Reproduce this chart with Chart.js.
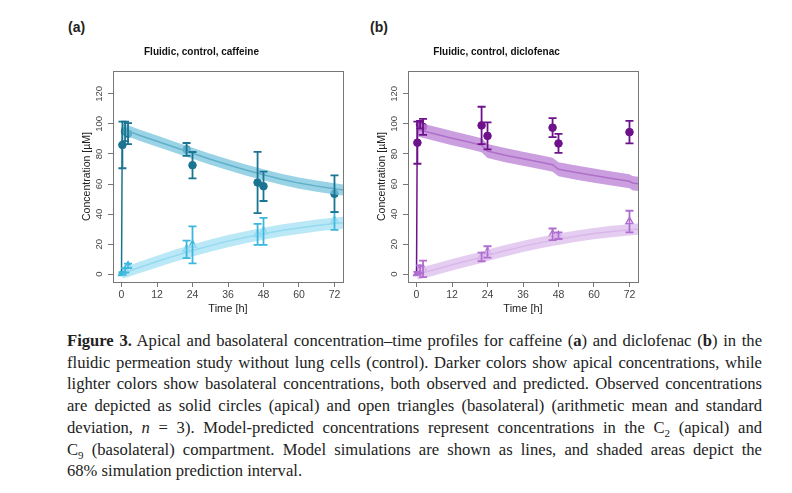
<!DOCTYPE html>
<html>
<head>
<meta charset="utf-8">
<script src="https://cdn.jsdelivr.net/npm/chart.js@4.4.1/dist/chart.umd.min.js"></script>
<style>
  body { margin: 0; background: #fff; width: 792px; height: 493px; position: relative; overflow: hidden; }
  .panel { position: absolute; top: 36px; height: 284px; }
  .tag { position: absolute; font-family: "Liberation Sans", Arial, sans-serif; font-weight: bold; font-size: 14px; color: #222; }
  #caption { position: absolute; left: 67px; top: 330px; width: 695px; font-family: "Liberation Serif", "Times New Roman", serif; font-size: 16.6px; line-height: 21.7px; color: #222; }
  #caption div { text-align: justify; text-align-last: justify; white-space: nowrap; }
  #caption div.last { text-align-last: left; }
  sub { font-size: 11px; line-height: 0; }
</style>
</head>
<body>
<div class="tag" style="left:68px; top:19px;">(a)</div>
<div class="tag" style="left:370px; top:19px;">(b)</div>
<div class="panel" style="left:60px; width:336px;"><canvas id="chartA"></canvas></div>
<div class="panel" style="left:355px; width:336px;"><canvas id="chartB"></canvas></div>
<div id="caption">
  <div><b>Figure 3.</b> Apical and basolateral concentration–time profiles for caffeine (<b>a</b>) and diclofenac (<b>b</b>) in the</div>
  <div>fluidic permeation study without lung cells (control). Darker colors show apical concentrations, while</div>
  <div>lighter colors show basolateral concentrations, both observed and predicted. Observed concentrations</div>
  <div>are depicted as solid circles (apical) and open triangles (basolateral) (arithmetic mean and standard</div>
  <div>deviation, <i>n</i> = 3). Model-predicted concentrations represent concentrations in the C<sub>2</sub> (apical) and</div>
  <div>C<sub>9</sub> (basolateral) compartment. Model simulations are shown as lines, and shaded areas depict the</div>
  <div class="last">68% simulation prediction interval.</div>
</div>
<script>
// Axis ticks
const xTicks = [0, 12, 24, 36, 48, 60, 72];
const yTicks = [0, 20, 40, 60, 80, 100, 120];

// Observed sampling times [h]
const obsTimes = [0.3, 1.2, 2.2, 22, 24, 46, 48, 72];

// Caffeine observed (mean, sd)
const caffApicalMean = [86, 95, 93.5, 83, 72.5, 61, 58.5, 53.5];
const caffApicalSd   = [15.5, 6.5, 7, 4.3, 8.8, 20.4, 9.8, 12.2];
const caffBasoMean   = [0.5, 2.5, 5.5, 16.5, 19.5, 26.5, 28.5, 35.5];
const caffBasoSd     = [0.8, 1.5, 1.5, 5.8, 12.3, 7, 9, 6];

// Diclofenac observed (mean, sd)
const dicloApicalMean = [87.5, 99.5, 98, 99, 92, 97.5, 87, 94.5];
const dicloApicalSd   = [14, 2.5, 5.3, 12.4, 9, 6.3, 6.3, 7.5];
const dicloBasoMean   = [0.5, 3.3, 3.5, 11.5, 14.8, 26.5, 25.6, 35];
const dicloBasoSd     = [1, 2.5, 5.5, 2.9, 3.8, 3.9, 2.2, 7.2];

// Caffeine model predictions
const caffModelTime   = [0, 0.25, 2, 6, 12, 18, 24, 30, 36, 42, 48, 54, 60, 66, 72, 74.9];
const caffApicalModel = [0, 97, 95.5, 92.5, 88.5, 84.5, 80.5, 76.5, 72.8, 69.3, 66.2, 63.2, 60.6, 58.6, 56.8, 56];
const caffApicalLow   = [null, 93.3, 91.8, 88.8, 84.8, 80.8, 76.8, 72.8, 69.1, 65.6, 62.5, 59.5, 56.9, 54.9, 53.1, 52.3];
const caffApicalHigh  = [null, 100.7, 99.2, 96.2, 92.2, 88.2, 84.2, 80.2, 76.5, 73, 69.9, 66.9, 64.3, 62.3, 60.5, 59.7];
const caffBasoModel   = [0, 0.3, 1.6, 4.5, 8.4, 12.2, 15.8, 19, 22, 24.6, 26.9, 29, 30.8, 32.4, 33.7, 34.3];
const caffBasoLow     = [null, -2.8, -2, 0.7, 4.5, 8.2, 11.8, 15, 18, 20.6, 22.9, 25, 26.8, 28.4, 29.7, 30.3];
const caffBasoHigh    = [null, 3.4, 5.2, 8.3, 12.3, 16.2, 19.8, 23, 26, 28.6, 30.9, 33, 34.8, 36.4, 37.7, 38.3];

// Diclofenac model predictions
const dicloModelTime   = [0, 0.25, 2, 6, 12, 18, 22, 24, 30, 36, 42, 46, 48, 54, 60, 66, 72, 73, 74.9];
const dicloApicalModel = [0, 96.5, 95.5, 93.5, 90.5, 87.8, 85.8, 82, 79.2, 76.8, 74.5, 72.8, 69.8, 67.6, 65.6, 63.7, 61.8, 60.6, 60.1];
const dicloApicalLow   = [null, 91.8, 90.8, 88.8, 85.8, 83.1, 81.1, 77.3, 74.5, 72.1, 69.8, 68.1, 65.1, 62.9, 60.9, 59, 57.1, 55.9, 55.4];
const dicloApicalHigh  = [null, 101.2, 100.2, 98.2, 95.2, 92.5, 90.5, 86.7, 83.9, 81.5, 79.2, 77.5, 74.5, 72.3, 70.3, 68.4, 66.5, 65.3, 64.8];
const dicloBasoModel   = [0, 0.2, 1, 3, 6.3, 9.3, 11.2, 12.6, 15.6, 18.5, 21, 22.5, 23.3, 25.3, 27, 28.4, 29.5, 29.7, 30];
const dicloBasoLow     = [null, -3.5, -2.8, -0.8, 2.5, 5.5, 7.4, 8.8, 11.8, 14.7, 17.2, 18.7, 19.5, 21.5, 23.2, 24.6, 25.7, 25.9, 26.2];
const dicloBasoHigh    = [null, 3.9, 4.8, 6.8, 10.1, 13.1, 15, 16.4, 19.4, 22.3, 24.8, 26.3, 27.1, 29.1, 30.8, 32.2, 33.3, 33.5, 33.8];

const toXY = (xs, ys) => xs.map((x, i) => ({ x: x, y: ys[i] })).filter(p => p.y !== null);

// Error bars (mean ± sd) drawn through the chart scales
const errorBarPlugin = {
    id: 'errorBars',
    afterDatasetsDraw(chart) {
        const ctx = chart.ctx;
        const xs = chart.scales.x, ys = chart.scales.y;
        chart.data.datasets.forEach(ds => {
            if (!ds.errSd) return;
            ctx.save();
            ctx.strokeStyle = ds.borderColor;
            ctx.lineWidth = 1.8;
            ds.data.forEach((p, i) => {
                const px = xs.getPixelForValue(p.x);
                const lo = ys.getPixelForValue(p.y - ds.errSd[i]);
                const hi = ys.getPixelForValue(p.y + ds.errSd[i]);
                ctx.beginPath();
                ctx.moveTo(px, lo); ctx.lineTo(px, hi);
                ctx.moveTo(px - 4, lo); ctx.lineTo(px + 4, lo);
                ctx.moveTo(px - 4, hi); ctx.lineTo(px + 4, hi);
                ctx.stroke();
            });
            ctx.restore();
        });
    }
};

// R style box around the plot region
const boxPlugin = {
    id: 'plotBox',
    afterDraw(chart) {
        const a = chart.chartArea, ctx = chart.ctx;
        ctx.save();
        ctx.strokeStyle = '#777';
        ctx.lineWidth = 1;
        ctx.strokeRect(Math.round(a.left) + 0.5, Math.round(a.top) + 0.5, Math.round(a.right - a.left), Math.round(a.bottom - a.top));
        ctx.restore();
    }
};

function makeChart(id, title, c, d) {
    const band = (t, lo, hi, color) => [
        { data: toXY(t, hi), borderWidth: 0, pointRadius: 0, showLine: true, fill: '+1', backgroundColor: color },
        { data: toXY(t, lo), borderWidth: 0, pointRadius: 0, showLine: true, fill: false }
    ];
    const line = (t, v, color) => ({ data: toXY(t, v), borderColor: color, borderWidth: 1.5, pointRadius: 0, showLine: true, fill: false });
    new Chart(document.getElementById(id), {
        type: 'scatter',
        data: {
            datasets: [
                ...band(d.t, d.bLow, d.bHigh, c.bBand),
                ...band(d.t, d.aLow, d.aHigh, c.aBand),
                line(d.t, d.bModel, c.bLine),
                line(d.t, d.aModel, c.aLine),
                { data: toXY(obsTimes, d.bMean), errSd: d.bSd, pointStyle: 'triangle', pointRadius: 4.2, borderColor: c.bLine, backgroundColor: 'rgba(255,255,255,0)', borderWidth: 1.5 },
                { data: toXY(obsTimes, d.aMean), errSd: d.aSd, pointStyle: 'circle', pointRadius: 3.8, borderColor: c.aLine, backgroundColor: c.aLine, borderWidth: 1 }
            ]
        },
        options: {
            responsive: true,
            maintainAspectRatio: false,
            animation: false,
            layout: { padding: { left: 0, right: 53, top: 0, bottom: 0 } },
            plugins: {
                legend: { display: false },
                tooltip: { enabled: false },
                title: {
                    display: true, text: title, color: '#111',
                    font: { family: 'Liberation Sans', size: 10, weight: 'bold' },
                    padding: { top: 10, bottom: 13 }
                }
            },
            scales: {
                x: {
                    type: 'linear', min: -2.88, max: 74.88,
                    afterBuildTicks: s => { s.ticks = xTicks.map(v => ({ value: v })); },
                    afterFit: s => { s.height = 38; },
                    border: { display: false },
                    grid: { drawOnChartArea: false, tickLength: 5, color: '#777' },
                    ticks: { color: '#444', padding: 2, maxRotation: 0, font: { family: 'Liberation Sans', size: 10.5 } },
                    title: { display: true, text: 'Time [h]', color: '#222', padding: { top: 0, bottom: 4 }, font: { family: 'Liberation Sans', size: 11 } }
                },
                y: {
                    type: 'linear', min: -5.2, max: 135.2,
                    afterBuildTicks: s => { s.ticks = yTicks.map(v => ({ value: v })); },
                    afterFit: s => { s.width = 53; },
                    border: { display: false },
                    grid: { drawOnChartArea: false, tickLength: 5, color: '#777' },
                    ticks: { color: '#444', padding: 1, minRotation: 90, maxRotation: 90, crossAlign: 'center', font: { family: 'Liberation Sans', size: 9.5 } },
                    title: { display: true, text: 'Concentration [µM]', color: '#222', padding: { top: 21, bottom: 0 }, font: { family: 'Liberation Sans', size: 10.5 } }
                }
            }
        },
        plugins: [errorBarPlugin, boxPlugin]
    });
}

makeChart('chartA', 'Fluidic, control, caffeine',
    { aLine: '#1b7491', aBand: 'rgba(120,196,222,0.75)', bLine: '#3db7de', bBand: 'rgba(170,226,244,0.8)' },
    { t: caffModelTime, aModel: caffApicalModel, aLow: caffApicalLow, aHigh: caffApicalHigh,
      bModel: caffBasoModel, bLow: caffBasoLow, bHigh: caffBasoHigh,
      aMean: caffApicalMean, aSd: caffApicalSd, bMean: caffBasoMean, bSd: caffBasoSd });

makeChart('chartB', 'Fluidic, control, diclofenac',
    { aLine: '#6e128c', aBand: 'rgba(190,135,215,0.8)', bLine: '#b06fd0', bBand: 'rgba(225,196,238,0.85)' },
    { t: dicloModelTime, aModel: dicloApicalModel, aLow: dicloApicalLow, aHigh: dicloApicalHigh,
      bModel: dicloBasoModel, bLow: dicloBasoLow, bHigh: dicloBasoHigh,
      aMean: dicloApicalMean, aSd: dicloApicalSd, bMean: dicloBasoMean, bSd: dicloBasoSd });
</script>
</body>
</html>
